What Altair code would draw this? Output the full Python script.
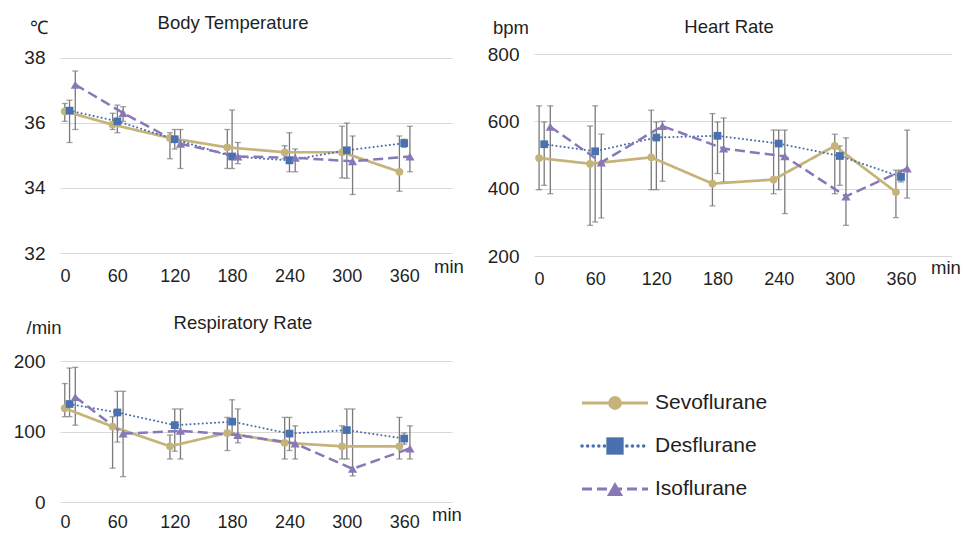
import altair as alt
import pandas as pd

SERIES = ["Sevoflurane", "Desflurane", "Isoflurane"]
COLORS = ["#C5B37A", "#4A71AF", "#8878B8"]
TIMES = [10, 60, 120, 180, 240, 300, 360]
X_TICKS = [0, 60, 120, 180, 240, 300, 360]
X_OFFSET = [-5, 0, 6]

# Body temperature (deg C): mean, lower, upper
bt_sevo = [36.36, 35.95, 35.54, 35.25, 35.10, 35.10, 34.50]
bt_sevo_lo = [36.05, 35.80, 34.90, 34.60, 34.90, 34.31, 33.90]
bt_sevo_hi = [36.60, 36.30, 35.70, 35.80, 35.30, 35.90, 35.60]
bt_des = [36.38, 36.05, 35.50, 34.97, 34.85, 35.16, 35.38]
bt_des_lo = [35.40, 35.70, 35.20, 34.60, 34.50, 34.30, 35.25]
bt_des_hi = [36.70, 36.55, 35.80, 36.40, 35.70, 36.00, 35.50]
bt_iso = [37.18, 36.31, 35.36, 34.97, 34.93, 34.82, 34.97]
bt_iso_lo = [35.80, 36.05, 34.60, 34.75, 34.50, 33.80, 34.50]
bt_iso_hi = [37.60, 36.50, 35.80, 35.40, 35.20, 35.60, 35.90]

# Heart rate (bpm)
hr_sevo = [491, 474, 493, 415, 427, 527, 390]
hr_sevo_lo = [397, 291, 397, 349, 385, 385, 314]
hr_sevo_hi = [646, 586, 633, 623, 574, 562, 455]
hr_des = [532, 511, 552, 557, 534, 497, 435]
hr_des_lo = [410, 301, 397, 445, 397, 410, 420]
hr_des_hi = [598, 646, 598, 598, 574, 527, 455]
hr_iso = [584, 478, 586, 519, 496, 377, 460]
hr_iso_lo = [385, 313, 422, 420, 326, 291, 372]
hr_iso_hi = [646, 562, 600, 610, 574, 551, 574]

# Respiratory rate (/min)
rr_sevo = [133, 107, 79, 98, 84, 79, 79]
rr_sevo_lo = [121, 48, 61, 73, 61, 61, 61]
rr_sevo_hi = [168, 121, 95, 120, 120, 108, 120]
rr_des = [139, 127, 109, 114, 97, 102, 90]
rr_des_lo = [121, 85, 72, 98, 73, 61, 82]
rr_des_hi = [190, 157, 132, 145, 120, 132, 98]
rr_iso = [149, 97, 101, 95, 83, 47, 76]
rr_iso_lo = [109, 36, 61, 84, 61, 37, 61]
rr_iso_hi = [191, 157, 132, 132, 108, 132, 108]

FONT = "Liberation Sans"
TXT = "#1f1f1f"
GRID = "#d9d9d9"
ERR = "#7a7a7a"

LINE_STYLE = {
    "Sevoflurane": dict(strokeWidth=2.7, strokeDash=[1, 0], strokeCap="butt"),
    "Desflurane": dict(strokeWidth=2.0, strokeDash=[0.1, 4], strokeCap="round"),
    "Isoflurane": dict(strokeWidth=2.5, strokeDash=[10, 5], strokeCap="butt"),
}
SHAPES = {"Sevoflurane": "circle", "Desflurane": "square", "Isoflurane": "triangle-up"}
SIZES = {"Sevoflurane": 60, "Desflurane": 60, "Isoflurane": 85}
LEG_SIZES = {"Sevoflurane": 190, "Desflurane": 300, "Isoflurane": 260}


def make_df(vals, los, his):
    rows = []
    for s, off, v, lo, hi in zip(SERIES, X_OFFSET, vals, los, his):
        for t, a, b, c in zip(TIMES, v, lo, hi):
            rows.append({"series": s, "t": t + off, "v": a, "lo": b, "hi": c})
    return pd.DataFrame(rows)


def label(text, x, y, size=18.5, align="center"):
    return alt.Chart(pd.DataFrame({"txt": [text]})).mark_text(
        font=FONT, fontSize=size, color=TXT, align=align, baseline="middle"
    ).encode(text="txt:N", x=alt.value(x), y=alt.value(y))


def panel(df, ydom, yticks, w, h, title, tpos, unit, upos, minpos, xpad):
    xs = alt.Scale(domain=[0, 410], nice=False, zero=False)
    ys = alt.Scale(domain=ydom, nice=False, zero=False)
    xax = alt.Axis(values=X_TICKS, title=None, grid=False, domain=False, ticks=False,
                   labelPadding=xpad, labelFontSize=18, labelFont=FONT, labelColor=TXT,
                   labelAngle=0, labelOverlap=False)
    yax = alt.Axis(values=yticks, title=None, grid=True, gridColor=GRID, gridWidth=1,
                   domain=False, ticks=False, labelPadding=15, labelFontSize=19,
                   labelFont=FONT, labelColor=TXT)
    X = alt.X("t:Q", scale=xs, axis=xax)
    base = alt.Chart(df)
    layers = [
        base.mark_rule(color=ERR, strokeWidth=1.3).encode(
            x=X, y=alt.Y("lo:Q", scale=ys, axis=yax), y2="hi:Q"),
        base.mark_tick(orient="horizontal", size=6, thickness=1.3, color=ERR).encode(
            x=X, y=alt.Y("lo:Q", scale=ys, axis=yax)),
        base.mark_tick(orient="horizontal", size=6, thickness=1.3, color=ERR).encode(
            x=X, y=alt.Y("hi:Q", scale=ys, axis=yax)),
    ]
    for s, col in zip(SERIES, COLORS):
        layers.append(base.transform_filter(alt.datum.series == s).mark_line(
            color=col, **LINE_STYLE[s]).encode(x=X, y=alt.Y("v:Q", scale=ys, axis=yax)))
    for s, col in zip(SERIES, COLORS):
        layers.append(base.transform_filter(alt.datum.series == s).mark_point(
            filled=True, opacity=1, color=col, shape=SHAPES[s], size=SIZES[s]).encode(
            x=X, y=alt.Y("v:Q", scale=ys, axis=yax)))
    layers.append(label(title, tpos[0], tpos[1]))
    layers.append(label(unit, upos[0], upos[1]))
    layers.append(label("min", minpos[0], minpos[1]))
    return alt.layer(*layers).properties(width=w, height=h)


p1 = panel(make_df([bt_sevo, bt_des, bt_iso], [bt_sevo_lo, bt_des_lo, bt_iso_lo],
                   [bt_sevo_hi, bt_des_hi, bt_iso_hi]),
           [32, 38.123], [32, 34, 36, 38], 392, 199,
           "Body Temperature", (173, -31), "\u2103", (-21, -26), (389, 213), 14)
p2 = panel(make_df([hr_sevo, hr_des, hr_iso], [hr_sevo_lo, hr_des_lo, hr_iso_lo],
                   [hr_sevo_hi, hr_des_hi, hr_iso_hi]),
           [200, 800], [200, 400, 600, 800], 418, 202,
           "Heart Rate", (195, -27), "bpm", (-23, -26), (412, 214), 14)
p3 = panel(make_df([rr_sevo, rr_des, rr_iso], [rr_sevo_lo, rr_des_lo, rr_iso_lo],
                   [rr_sevo_hi, rr_des_hi, rr_iso_hi]),
           [0, 200], [0, 100, 200], 392, 141,
           "Respiratory Rate", (183, -38), "/min", (-16, -33), (387, 154), 11)

# Custom legend
leg_df = pd.DataFrame({"series": SERIES, "row": [0, 1, 2]})
LY = alt.Y("row:Q", scale=alt.Scale(domain=[0, 2], range=[42, 128], nice=False, zero=False),
           axis=None)
leg_base = alt.Chart(leg_df)
leg_layers = []
for s, col in zip(SERIES, COLORS):
    st = dict(LINE_STYLE[s])
    st["strokeWidth"] = 3.2
    if s == "Desflurane":
        st["strokeDash"] = [0.1, 5.5]
        st["strokeWidth"] = 3.5
    leg_layers.append(leg_base.transform_filter(alt.datum.series == s).mark_rule(
        color=col, **st).encode(x=alt.value(48), x2=alt.value(114), y=LY))
for s, col in zip(SERIES, COLORS):
    leg_layers.append(leg_base.transform_filter(alt.datum.series == s).mark_point(
        filled=True, opacity=1, color=col, shape=SHAPES[s], size=LEG_SIZES[s]).encode(
        x=alt.value(81), y=LY))
leg_layers.append(leg_base.mark_text(font=FONT, fontSize=21, color=TXT, align="left",
                                     baseline="middle").encode(
    x=alt.value(121), y=LY, text="series:N"))
legend = alt.layer(*leg_layers).properties(width=250, height=141)

chart = alt.concat(
    p1, p2, p3, legend, columns=2, spacing={"row": 105, "column": 82},
    bounds="flush", align="each"
).properties(
    padding={"left": 13, "top": 14, "right": 5, "bottom": 0},
    background="white",
).configure_view(stroke=None)

chart.save("out.html", embed_options={"renderer": "svg", "actions": False})
